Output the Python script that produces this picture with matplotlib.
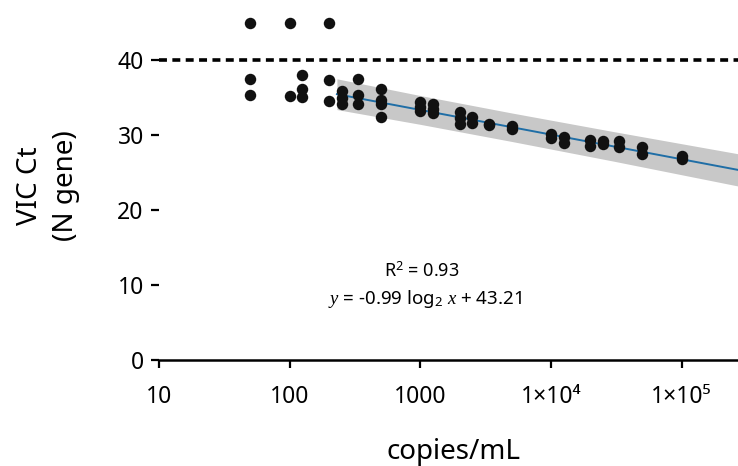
import matplotlib
matplotlib.use("Agg")
import matplotlib.pyplot as plt
import numpy as np

# ---- data ----
copies = [50, 50, 50,
          100, 100,
          125, 125, 125,
          200, 200, 200,
          250, 250, 250,
          333, 333, 333,
          500, 500, 500, 500,
          1000, 1000, 1000,
          1250, 1250, 1250,
          2000, 2000, 2000,
          2500, 2500,
          3333, 3333,
          5000, 5000,
          10000, 10000,
          12500, 12500,
          20000, 20000,
          25000, 25000,
          33333, 33333,
          50000, 50000,
          100000, 100000]
ct = [45, 37.5, 35.3,
      45, 35.2,
      38.0, 36.1, 35.1,
      45, 37.3, 34.6,
      35.9, 35.0, 34.1,
      37.5, 35.3, 34.1,
      36.1, 34.7, 34.1, 32.4,
      34.4, 33.8, 33.2,
      34.1, 33.5, 32.9,
      33.1, 32.3, 31.5,
      32.4, 31.6,
      31.5, 31.3,
      31.2, 30.8,
      30.1, 29.6,
      29.7, 28.9,
      29.3, 28.5,
      29.2, 28.8,
      29.2, 28.4,
      28.4, 27.5,
      27.2, 26.8]

slope = -0.99
intercept = 43.21
r2 = 0.93
fit_range = [230, 2.7e5]
band_x = [230, 1000, 5000, 30000, 2.7e5]
band_lo = [33.39, 31.42, 29.14, 26.52, 23.20]
band_hi = [37.49, 35.26, 32.94, 30.46, 27.50]
cutoff = 40

xticks = [10, 100, 1000, 1e4, 1e5]
xticklabels = ["10", "100", "1000", "1×10⁴", "1×10⁵"]
yticks = [0, 10, 20, 30, 40]

plt.rcParams['font.family'] = ['Noto Sans', 'DejaVu Sans']
plt.rcParams['mathtext.fontset'] = 'custom'
plt.rcParams['mathtext.rm'] = 'Noto Sans'
plt.rcParams['mathtext.it'] = 'Liberation Serif:italic'

fig = plt.figure(figsize=(7.38, 4.66), dpi=100)
ax = fig.add_axes([159/738, 106/466, 1 - 159/738, 1 - 106/466])

ax.set_xscale('log')
ax.set_xlim(10, 2.7e5)
ax.set_ylim(0, 48)

ax.fill_between(band_x, band_lo, band_hi, color='#c8c8c8', lw=0, zorder=1)
xf = np.array(fit_range)
ax.plot(xf, slope * np.log2(xf) + intercept, color='#1f6ea6', lw=1.4, zorder=3)
ax.axhline(cutoff, color='black', lw=2.6, dashes=(2.2, 1.5), zorder=2)
ax.scatter(copies, ct, s=68, color='#111111', zorder=4, linewidths=0)

for s in ['top', 'right', 'left']:
    ax.spines[s].set_visible(False)
ax.spines['bottom'].set_linewidth(1.8)

ax.set_xticks(xticks)
ax.set_xticklabels(xticklabels)
ax.xaxis.set_minor_locator(matplotlib.ticker.NullLocator())
ax.set_yticks(yticks)
ax.tick_params(axis='both', direction='out', length=6, width=1.6, labelsize=16.5, colors='black')
ax.tick_params(axis='x', pad=12)
ax.tick_params(axis='y', pad=5)

fig.text(48/738, 1 - 186/466, "VIC Ct\n(N gene)", rotation=90, ha='center', va='center',
         fontsize=20, linespacing=1.35)
fig.text(454/738, 1 - 452/466, "copies/mL", ha='center', va='center', fontsize=20)

fig.text(422/738, 1 - 271/466, r"R$^2$ = 0.93", ha='center', va='center', fontsize=13)
fig.text(425/738, 1 - 299/466, r"$\mathit{y}$ = -0.99 log$_2$ $\mathit{x}$ + 43.21",
         ha='center', va='center', fontsize=13.5)

fig.savefig("out.png", dpi=100)
